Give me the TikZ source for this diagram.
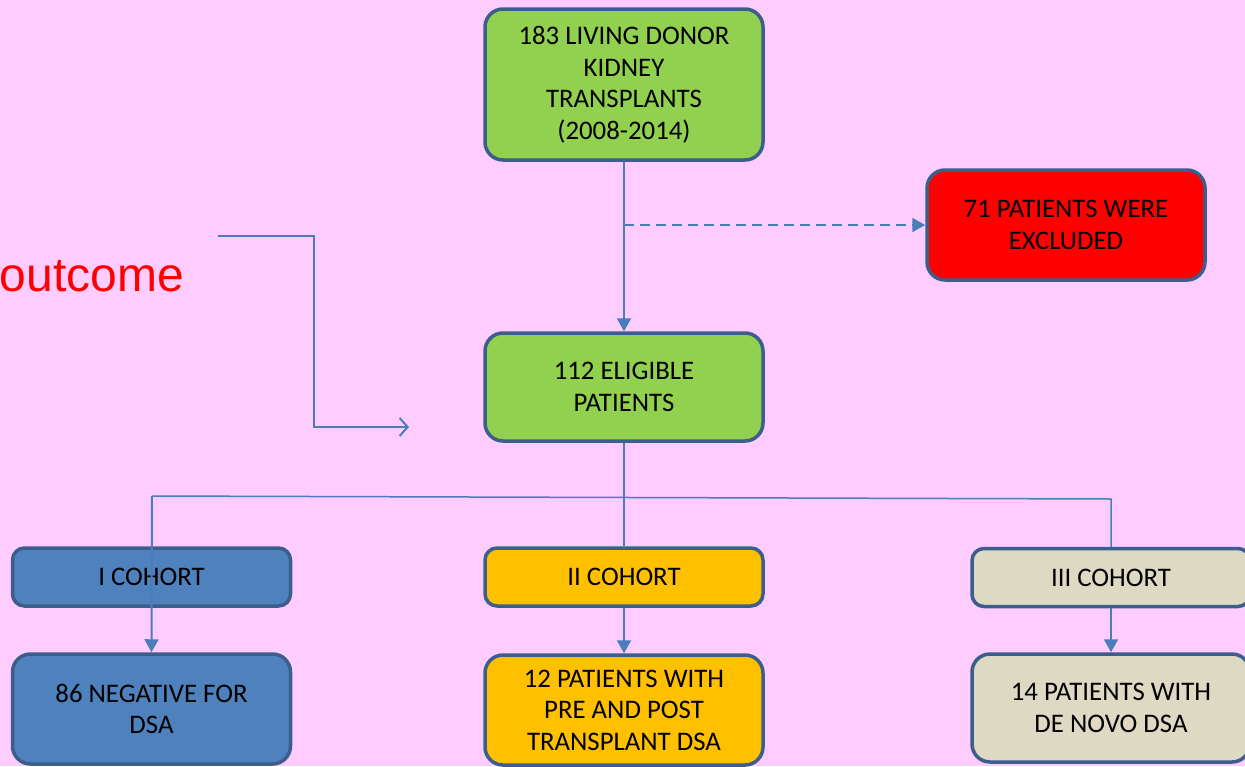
\documentclass[tikz,border=0pt]{standalone}
\usepackage{fontspec}
\setmainfont{Carlito}
\newfontfamily\arialfont{Liberation Sans}
\usetikzlibrary{arrows.meta}
\definecolor{bgpink}{HTML}{FFCCFF}
\definecolor{boxborder}{HTML}{3B5E8C}
\definecolor{linec}{HTML}{4A7EBB}
\definecolor{fgreen}{HTML}{92D050}
\definecolor{fred}{HTML}{FF0000}
\definecolor{fblue}{HTML}{4F81BD}
\definecolor{forange}{HTML}{FFC000}
\definecolor{fbeige}{HTML}{DDD9C3}
\begin{document}
\begin{tikzpicture}[x=1pt,y=-1pt,
  box/.style={draw=boxborder, line width=3.5pt, rounded corners=18pt, align=center,
    inner sep=0pt, font=\fontsize{26.8}{31.5}\selectfont, text=black,
    minimum width=278pt},
  smallbox/.style={box, rounded corners=12pt, minimum height=58pt},
  conn/.style={draw=linec, line width=2pt},
  tip/.style={-{Triangle[length=13pt,width=14pt]}}]
\fill[bgpink] (0,0) rectangle (1245,766);
\useasboundingbox (0,0) rectangle (1245,766);
\clip (0,0) rectangle (1245,766);

\node[box, fill=fgreen, minimum height=151pt] (top) at (624,84.5)
  {183 LIVING DONOR\\KIDNEY\\TRANSPLANTS\\(2008-2014)};
\node[box, fill=fred, minimum height=110pt] (excl) at (1066,225)
  {71 PATIENTS WERE\\EXCLUDED};
\node[box, fill=fgreen, minimum height=108pt] (mid) at (624,387)
  {112 ELIGIBLE\\PATIENTS};

\node[smallbox, fill=fblue] (c1) at (151.5,577) {I COHORT};
\node[smallbox, fill=forange] (c2) at (624,577) {II COHORT};
\node[smallbox, fill=fbeige] (c3) at (1111,577.5) {III COHORT};

\node[box, fill=fblue, minimum height=110pt] (neg) at (151.5,709)
  {86 NEGATIVE FOR\\DSA};
\node[box, fill=forange, minimum height=110pt] (pp) at (624,710)
  {12 PATIENTS WITH\\PRE AND POST\\TRANSPLANT DSA};
\node[box, fill=fbeige, minimum height=108pt] (dn) at (1111,708)
  {14 PATIENTS WITH\\DE NOVO DSA};

\node[anchor=base east, text=red, inner sep=0pt,
  font=\arialfont\fontsize{48}{54}\selectfont] (oc) at (184,291) {outcome};

% connectors
\coordinate (dj) at (624,225);
\draw[conn, tip] (top.south) -- (mid.north);
\draw[conn, tip, dash pattern=on 10pt off 6pt] (dj) -- (excl.west);

\coordinate (bl) at (152,496);
\coordinate (br) at (1111,499);
\draw[conn, line width=1.5pt] (mid.south) -- (c2.north);
\draw[conn, line width=1.5pt] (bl) -- (br) -- (c3.north);
\draw[conn, tip] (bl) -- (neg.north);
\draw[conn, tip] (c2.south) -- (pp.north);
\draw[conn, tip] (c3.south) -- (dn.north);

\coordinate (e1) at (218,236);
\coordinate (ek) at (314,427);
\coordinate (e2) at (409,427);
\draw[conn, -{Straight Barb[length=8pt,width=18pt,line width=2pt]}] (e1) -| (ek) -- (e2);
\end{tikzpicture}
\end{document}
